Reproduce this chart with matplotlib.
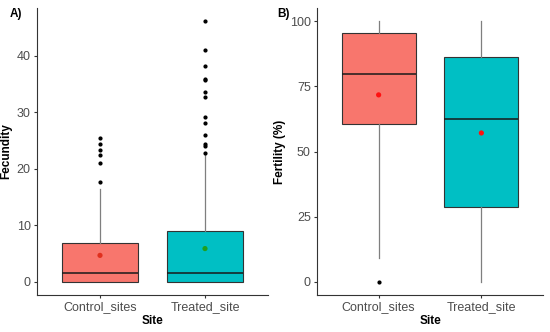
import matplotlib
matplotlib.use("Agg")
import matplotlib.pyplot as plt

plt.rcParams["font.family"] = ["Liberation Sans", "DejaVu Sans"]

sites = ["Control_sites", "Treated_site"]
box_colors = ["#F8766D", "#00BFC4"]

# Panel A: fecundity
fec_q1 = [0.0, 0.0]
fec_med = [1.6, 1.6]
fec_q3 = [6.9, 9.0]
fec_whislo = [0.0, 0.0]
fec_whishi = [16.4, 22.5]
fec_mean = [4.7, 5.9]
fec_mean_colors = ["#E0301E", "#1FA01F"]
fec_fliers = [
    [17.6, 21.0, 22.4, 23.3, 24.3, 25.4],
    [22.8, 24.1, 24.4, 26.0, 28.1, 29.1, 32.7, 33.5, 35.7, 35.9, 38.1, 41.0, 46.1],
]

# Panel B: fertility (%)
fer_q1 = [60.6, 28.8]
fer_med = [79.7, 62.4]
fer_q3 = [95.3, 86.4]
fer_whislo = [9.3, 0.0]
fer_whishi = [100.0, 100.0]
fer_mean = [71.7, 57.1]
fer_mean_colors = ["#FF1010", "#FF1010"]
fer_fliers = [[0.0], []]


def draw_panel(ax, q1, med, q3, lo, hi, fliers, means, mean_colors,
               ylabel, yticks, ylim, tag, tag_x):
    stats = []
    for i in range(len(sites)):
        stats.append(dict(label=sites[i], q1=q1[i], med=med[i], q3=q3[i],
                          whislo=lo[i], whishi=hi[i], fliers=fliers[i]))
    pos = [1, 2]
    bp = ax.bxp(stats, positions=pos, widths=0.72, patch_artist=True,
                showcaps=False, showfliers=True,
                boxprops=dict(edgecolor="#333333", linewidth=0.8),
                medianprops=dict(color="#1a1a1a", linewidth=1.1),
                whiskerprops=dict(color="#7f7f7f", linewidth=0.9),
                flierprops=dict(marker="o", markersize=2.0,
                                markerfacecolor="black",
                                markeredgecolor="black"))
    for patch, c in zip(bp["boxes"], box_colors):
        patch.set_facecolor(c)
    ax.scatter(pos, means, c=mean_colors, s=14, zorder=5, linewidths=0)

    ax.set_xlim(0.4, 2.6)
    ax.set_ylim(*ylim)
    ax.set_yticks(yticks)
    ax.set_xticks(pos)
    ax.set_xticklabels(sites)
    for s in ["top", "right"]:
        ax.spines[s].set_visible(False)
    for s in ["left", "bottom"]:
        ax.spines[s].set_color("#333333")
        ax.spines[s].set_linewidth(0.8)
    ax.tick_params(colors="#333333", labelcolor="#4d4d4d", labelsize=9,
                   length=2.5, width=0.8, pad=2)
    ax.set_xlabel("Site", fontsize=8.5, fontweight="bold", labelpad=1)
    ax.set_ylabel(ylabel, fontsize=8.5, fontweight="bold", labelpad=3)
    ax.text(tag_x, 1.0, tag, transform=ax.transAxes, fontsize=8.5,
            fontweight="bold", va="top", ha="left")


fig = plt.figure(figsize=(5.5, 3.32), dpi=100)
W, H = 550, 332
axA = fig.add_axes([37 / W, (H - 295) / H, (268 - 37) / W, (295 - 8) / H])
axB = fig.add_axes([317 / W, (H - 295) / H, (543 - 317) / W, (295 - 8) / H])

draw_panel(axA, fec_q1, fec_med, fec_q3, fec_whislo, fec_whishi, fec_fliers,
           fec_mean, fec_mean_colors, "Fecundity", [0, 10, 20, 30, 40],
           (-2.3, 48.4), "A)", -0.12)
draw_panel(axB, fer_q1, fer_med, fer_q3, fer_whislo, fer_whishi, fer_fliers,
           fer_mean, fer_mean_colors, "Fertility (%)", [0, 25, 50, 75, 100],
           (-5, 105), "B)", -0.175)

fig.savefig("out.png", dpi=100)
